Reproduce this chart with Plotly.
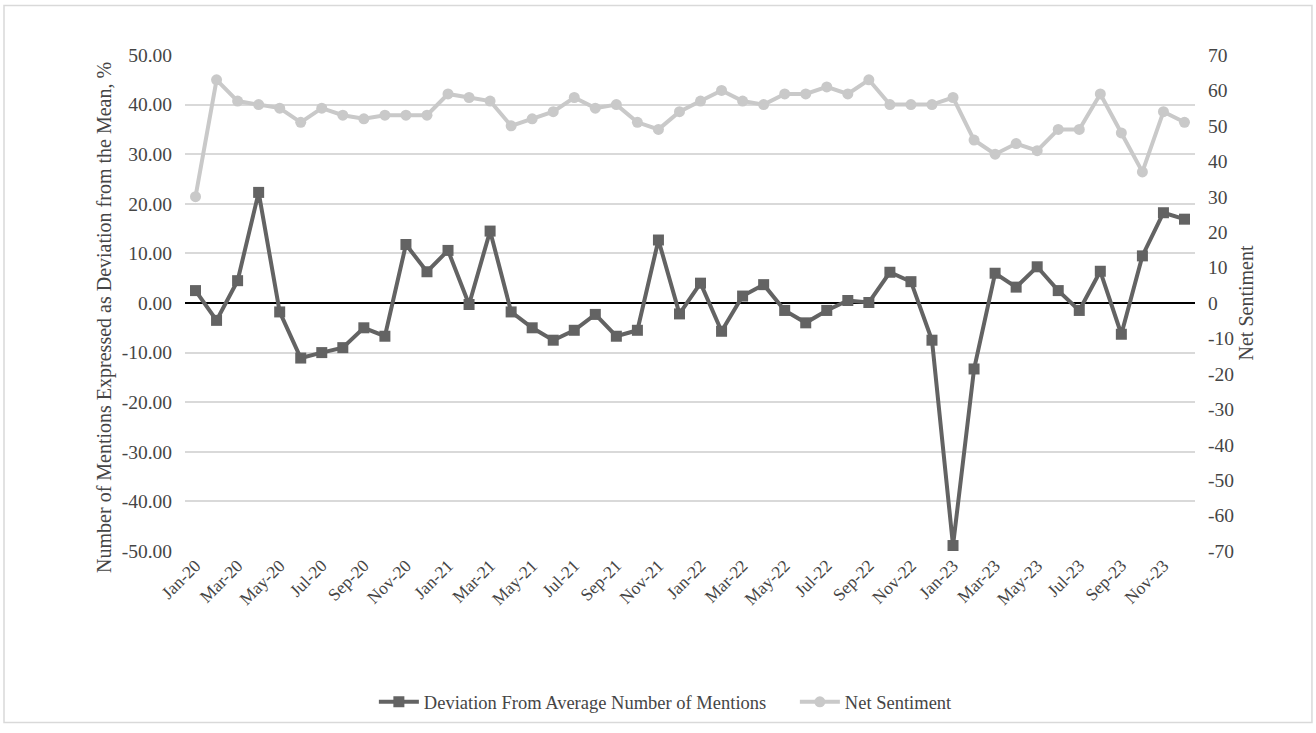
import plotly.graph_objects as go

months = ["Jan", "Feb", "Mar", "Apr", "May", "Jun", "Jul", "Aug", "Sep", "Oct", "Nov", "Dec"]
years = ["20", "21", "22", "23"]
categories = [f"{m}-{y}" for y in years for m in months]

deviation = [2.5, -3.5, 4.5, 22.3, -1.8, -11.1, -10.0, -9.0, -5.0, -6.7, 11.8, 6.3,
             10.6, -0.3, 14.5, -1.8, -5.0, -7.5, -5.5, -2.3, -6.7, -5.5, 12.7, -2.2,
             4.0, -5.7, 1.4, 3.7, -1.5, -4.0, -1.5, 0.5, 0.1, 6.2, 4.3, -7.5,
             -48.9, -13.3, 6.0, 3.2, 7.3, 2.5, -1.5, 6.4, -6.3, 9.5, 18.2, 16.9]

net_sentiment = [30, 63, 57, 56, 55, 51, 55, 53, 52, 53, 53, 53,
                 59, 58, 57, 50, 52, 54, 58, 55, 56, 51, 49, 54,
                 57, 60, 57, 56, 59, 59, 61, 59, 63, 56, 56, 56,
                 58, 46, 42, 45, 43, 49, 49, 59, 48, 37, 54, 51]

left_ticks = list(range(-50, 51, 10))
right_ticks = list(range(-70, 71, 10))
x_tick_labels = categories[::2]

FONT = "Liberation Serif"
TXT = "#454545"

fig = go.Figure()
fig.add_trace(go.Scatter(
    x=categories, y=deviation, name="Deviation From Average Number of Mentions",
    mode="lines+markers",
    line=dict(color="#636363", width=4),
    marker=dict(symbol="square", size=11, color="#636363"),
    yaxis="y",
))
fig.add_trace(go.Scatter(
    x=categories, y=net_sentiment, name="Net Sentiment",
    mode="lines+markers",
    line=dict(color="#c9c9c9", width=4),
    marker=dict(symbol="circle", size=11, color="#c9c9c9"),
    yaxis="y2",
))

fig.update_layout(
    width=1316, height=733,
    margin=dict(l=185, r=121, t=55, b=178),
    paper_bgcolor="white", plot_bgcolor="white",
    font=dict(family=FONT, size=18, color=TXT),
    showlegend=True,
    legend=dict(orientation="h", x=0.187, xanchor="left", y=-0.305, yanchor="middle",
                font=dict(family=FONT, size=18.5, color=TXT), itemwidth=40,
                entrywidth=366, tracegroupgap=0),
    xaxis=dict(
        type="category", categoryorder="array", categoryarray=categories,
        range=[-0.5, len(categories) - 0.5],
        tickmode="array", tickvals=x_tick_labels, ticktext=x_tick_labels,
        tickangle=-45, showgrid=False, showline=False,
        ticks="", ticklen=0,
        tickfont=dict(family=FONT, size=17.5, color=TXT),
    ),
    yaxis=dict(
        range=[-50, 50], tickmode="array", tickvals=left_ticks,
        ticktext=[f"{v:.2f}" for v in left_ticks],
        showgrid=True, gridcolor="#d9d9d9", gridwidth=1.5,
        zeroline=True, zerolinecolor="#000000", zerolinewidth=2,
        showline=False, ticks="outside", ticklen=8, tickcolor="rgba(0,0,0,0)",
        tickfont=dict(family=FONT, size=19.5, color=TXT),
    ),
    yaxis2=dict(
        range=[-70, 70], tickmode="array", tickvals=right_ticks,
        ticktext=[str(v) for v in right_ticks],
        overlaying="y", side="right", showgrid=False, zeroline=False,
        showline=False, ticks="outside", ticklen=8, tickcolor="rgba(0,0,0,0)",
        tickfont=dict(family=FONT, size=19.5, color=TXT),
        title=dict(text="Net Sentiment", font=dict(family=FONT, size=20, color=TXT), standoff=6),
    ),
)

fig.add_annotation(
    text="Number of Mentions Expressed as Deviation from the Mean, %",
    xref="paper", yref="paper", x=-0.0792, y=0.47,
    xanchor="center", yanchor="middle", textangle=-90, showarrow=False,
    font=dict(family=FONT, size=20, color=TXT),
)

fig.add_shape(type="rect", xref="paper", yref="paper",
              x0=-0.1792, x1=1.1158, y0=-0.346, y1=1.1,
              line=dict(color="#d9d9d9", width=1.5), fillcolor="rgba(0,0,0,0)", layer="below")

fig.write_html("out.html")
